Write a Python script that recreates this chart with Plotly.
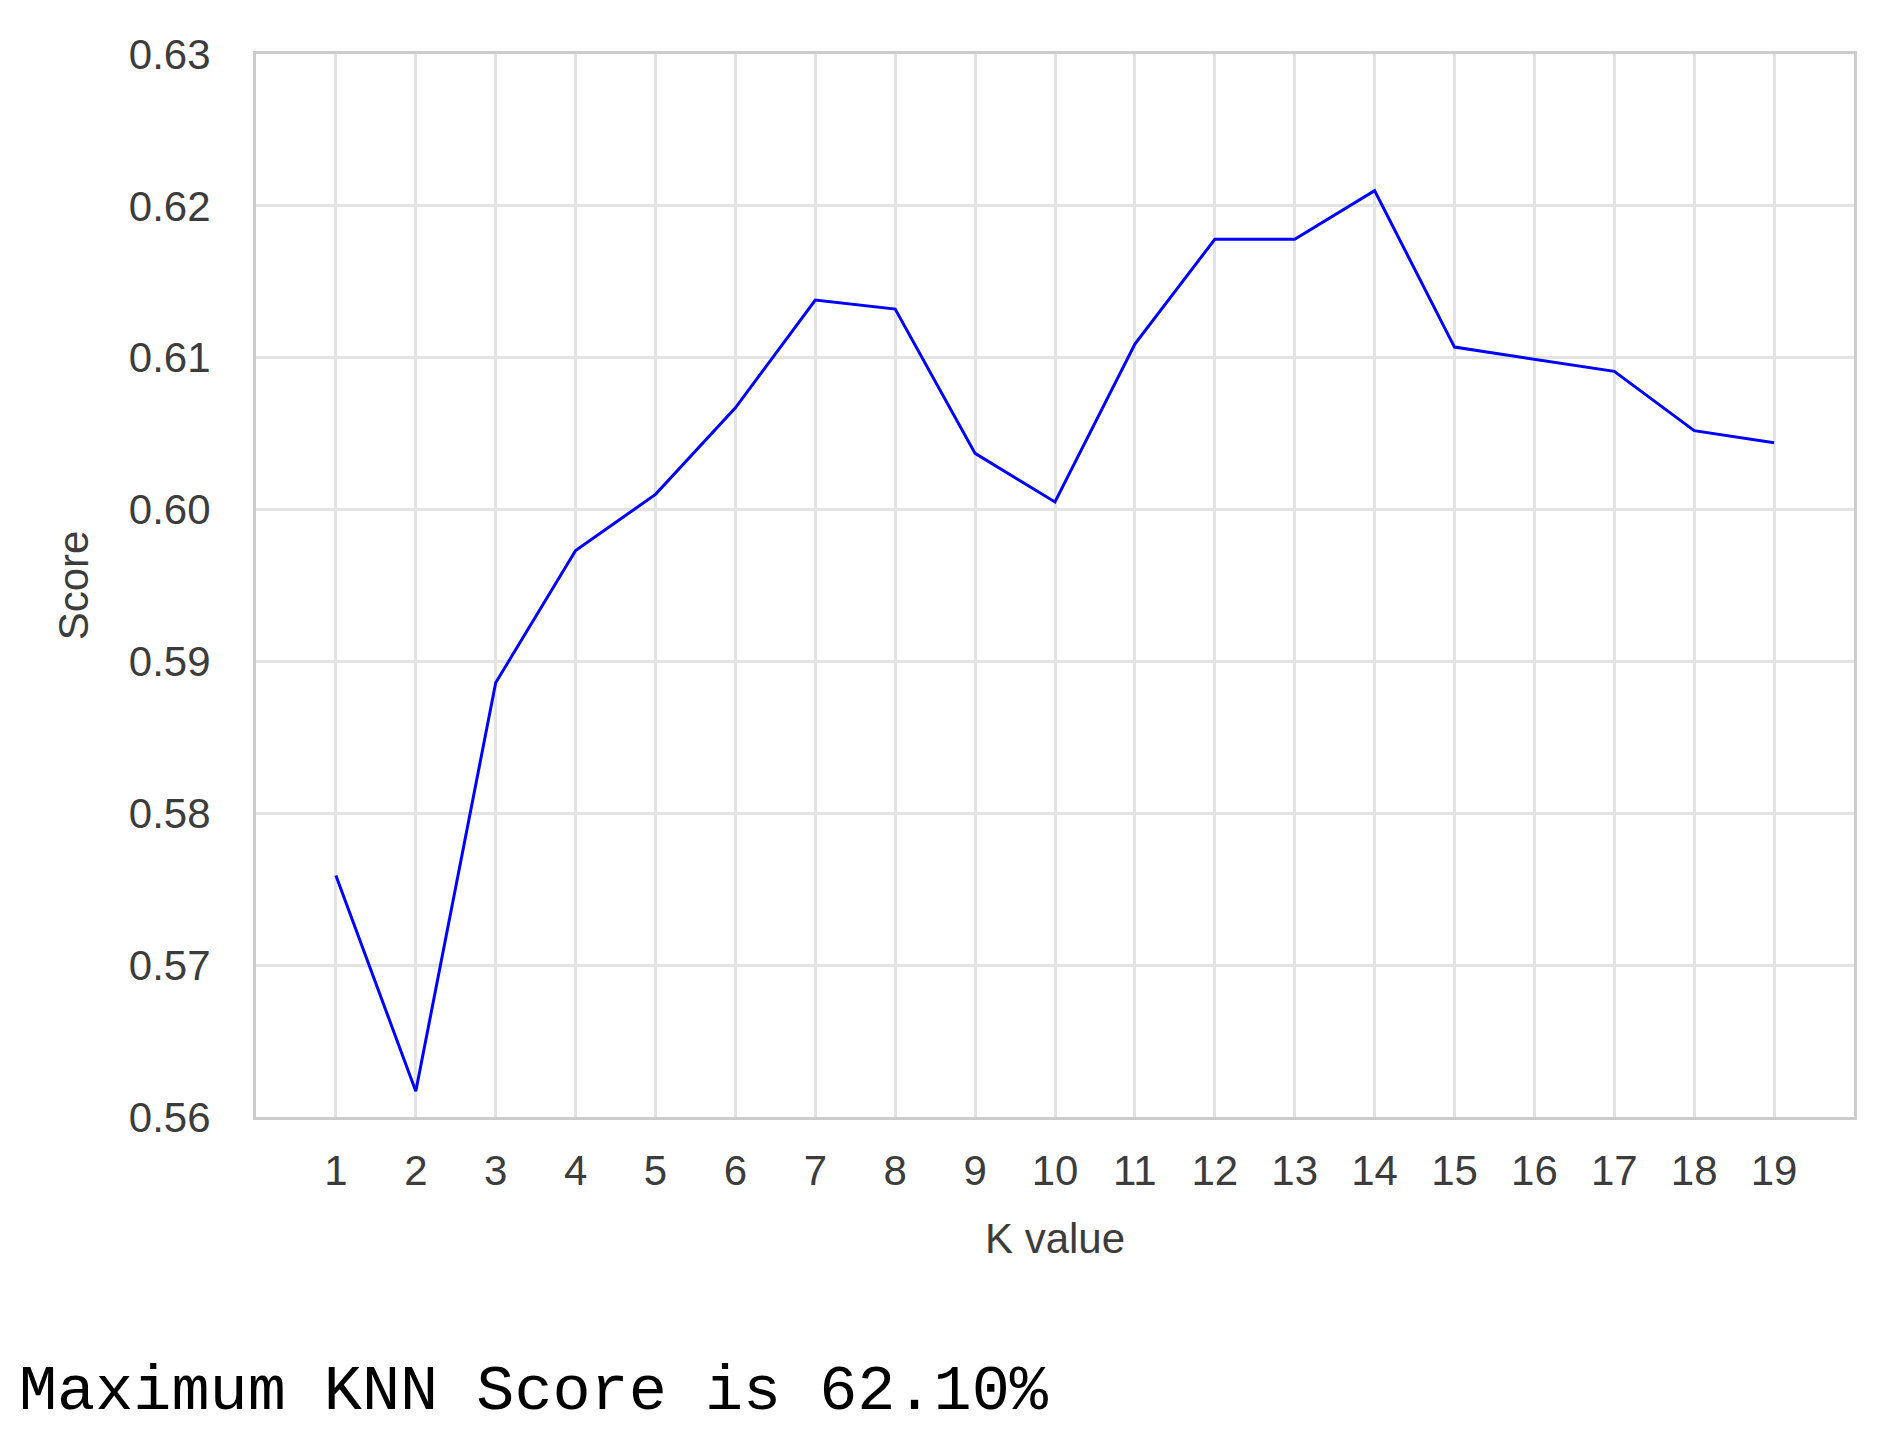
import plotly.graph_objects as go

k_values = list(range(1, 20))
scores = [0.5759, 0.5617, 0.5886, 0.5973, 0.6010, 0.6067, 0.6138, 0.6132, 0.6037, 0.6005,
          0.6109, 0.6178, 0.6178, 0.6210, 0.6107, 0.6099, 0.6091, 0.6052, 0.6044]
y_ticks = [0.56, 0.57, 0.58, 0.59, 0.60, 0.61, 0.62, 0.63]
y_tick_text = ["0.56", "0.57", "0.58", "0.59", "0.60", "0.61", "0.62", "0.63"]
max_text = "Maximum KNN Score is 62.10%"

grid_col = "#e3e3e3"
text_col = "#3c3c3c"

fig = go.Figure()
fig.add_trace(go.Scatter(x=k_values, y=scores, mode="lines",
                         line=dict(color="#0000ff", width=3), showlegend=False))

# page body keeps an 8px margin, so the figure is a bit smaller than the window
fig.update_layout(
    width=1866, height=1425,
    margin=dict(l=248, r=20, t=46, b=316),
    plot_bgcolor="white", paper_bgcolor="white",
    font=dict(family="Liberation Sans, Arial", size=42, color=text_col),
)
fig.update_xaxes(
    range=[0, 20], tickvals=k_values, ticktext=[str(k) for k in k_values],
    showgrid=True, gridcolor=grid_col, gridwidth=2.5, zeroline=False,
    showline=True, linecolor="#cccccc", linewidth=3, mirror=True,
    ticks="", ticklabelstandoff=15,
    title=dict(text="K value", standoff=31, font=dict(size=42, color=text_col)),
)
fig.update_yaxes(
    range=[0.56, 0.63], tickvals=y_ticks, ticktext=y_tick_text,
    showgrid=True, gridcolor=grid_col, gridwidth=2.5, zeroline=False,
    showline=True, linecolor="#cccccc", linewidth=3, mirror=True,
    ticks="", ticklabelstandoff=34,
    title=dict(text="Score", standoff=28, font=dict(size=42, color=text_col)),
)

# printed result below the chart
fig.add_annotation(xref="paper", yref="paper", x=-0.1495, y=-0.2587,
                   xanchor="left", yanchor="middle", showarrow=False,
                   text=max_text,
                   font=dict(family="Liberation Mono, Courier New", size=63.5, color="black"))

fig.write_html("out.html")
